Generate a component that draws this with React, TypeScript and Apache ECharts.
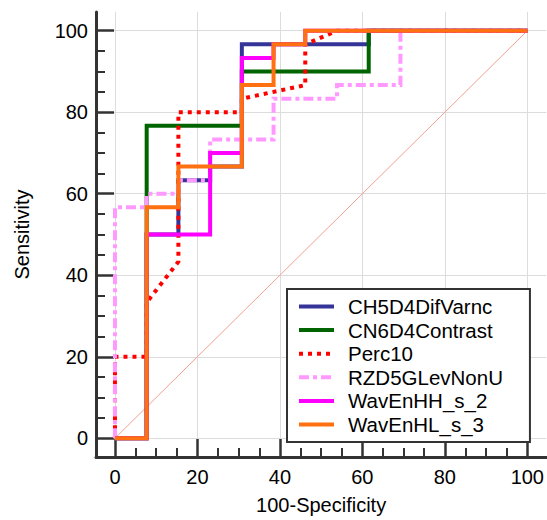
import React, { useEffect, useRef } from "react";
import * as echarts from "echarts";

const xMajorTicks = [0, 20, 40, 60, 80, 100];
const yMajorTicks = [0, 20, 40, 60, 80, 100];
const minorTicks = [5, 10, 15, 25, 30, 35, 45, 50, 55, 65, 70, 75, 85, 90, 95];

const seriesNames = [
  "CH5D4DifVarnc",
  "CN6D4Contrast",
  "Perc10",
  "RZD5GLevNonU",
  "WavEnHH_s_2",
  "WavEnHL_s_3",
];

const ch5d4DifVarnc = [
  [0, 0], [7.69, 0], [7.69, 50], [15.38, 50], [15.38, 63.33], [23.08, 63.33],
  [23.08, 66.67], [30.77, 66.67], [30.77, 96.67], [61.54, 96.67], [61.54, 100], [100, 100],
];
const cn6d4Contrast = [
  [0, 0], [7.69, 0], [7.69, 76.67], [30.77, 76.67], [30.77, 90], [61.54, 90],
  [61.54, 100], [100, 100],
];
const perc10 = [
  [0, 0], [0, 20], [7.69, 20], [7.69, 33.33], [15.38, 43.33], [15.38, 80],
  [30.77, 80], [30.77, 83.33], [46.15, 86.67], [46.15, 96.67], [53.85, 100], [100, 100],
];
const rzd5GLevNonU = [
  [0, 0], [0, 56.67], [7.69, 56.67], [7.69, 60], [15.38, 60], [15.38, 63.33],
  [23.08, 63.33], [23.08, 73.33], [38.46, 73.33], [38.46, 83.33], [53.85, 83.33],
  [53.85, 86.67], [69.23, 86.67], [69.23, 100], [100, 100],
];
const wavEnHH_s_2 = [
  [0, 0], [7.69, 0], [7.69, 50], [23.08, 50], [23.08, 70], [30.77, 70],
  [30.77, 93.33], [38.46, 93.33], [38.46, 96.67], [46.15, 96.67], [46.15, 100], [100, 100],
];
const wavEnHL_s_3 = [
  [0, 0], [7.69, 0], [7.69, 56.67], [15.38, 56.67], [15.38, 66.67], [30.77, 66.67],
  [30.77, 86.67], [38.46, 86.67], [38.46, 96.67], [46.15, 96.67], [46.15, 100], [100, 100],
];
const diagonal = [[0, 0], [100, 100]];

const seriesData = [ch5d4DifVarnc, cn6d4Contrast, perc10, rzd5GLevNonU, wavEnHH_s_2, wavEnHL_s_3];
const seriesColors = ["#353599", "#006400", "#ff0000", "#ff99ff", "#ff00ff", "#ff7010"];
const seriesDash: any[] = ["solid", "solid", [4, 5], [10, 4, 4, 4], "solid", "solid"];

const FONT = "'Liberation Sans', Arial, sans-serif";
const AX = "#333333";

function makeAxes(kind: "x" | "y", majors: number[], name: string) {
  const base = {
    type: "value",
    min: -4.6,
    max: 104.6,
  };
  const main: any = {
    ...base,
    name,
    nameLocation: "middle",
    nameGap: kind === "x" ? 38 : 64,
    nameTextStyle: { fontFamily: FONT, fontSize: 20, color: "#000" },
    axisLine: { show: true, onZero: false, lineStyle: { color: AX, width: 3 } },
    axisTick: { show: true, inside: true, length: 18, customValues: majors, lineStyle: { color: AX, width: 2.5 } },
    axisLabel: {
      show: true,
      customValues: majors,
      margin: kind === "x" ? 10 : 8,
      fontFamily: FONT,
      fontSize: 20,
      color: "#000",
    },
    splitLine: { show: true, lineStyle: { color: "#dcdcdc", width: 1 } },
  };
  const minor: any = {
    ...base,
    position: kind === "x" ? "bottom" : "left",
    axisLine: { show: false, onZero: false },
    axisTick: { show: true, inside: true, length: 9, customValues: minorTicks, lineStyle: { color: AX, width: 2 } },
    axisLabel: { show: false },
    splitLine: { show: false },
  };
  if (kind === "x") main.position = "bottom";
  else main.position = "left";
  return [main, minor];
}

export default function App() {
  const ref = useRef<HTMLDivElement>(null);
  useEffect(() => {
    if (!ref.current) return;
    const chart = echarts.init(ref.current, null, { renderer: "svg" });
    const lines = seriesNames.map((n, i) => ({
      name: n,
      type: "line",
      data: seriesData[i],
      showSymbol: false,
      symbol: "none",
      xAxisIndex: 0,
      yAxisIndex: 0,
      lineStyle: { color: seriesColors[i], width: 4, type: seriesDash[i], cap: "butt", join: "miter" },
      itemStyle: { color: seriesColors[i] },
      z: 3 + i,
    }));
    chart.setOption({
      animation: false,
      backgroundColor: "#fff",
      grid: { left: 96, top: 12, width: 451, height: 450, containLabel: false },
      xAxis: makeAxes("x", xMajorTicks, "100-Specificity"),
      yAxis: makeAxes("y", yMajorTicks, "Sensitivity"),
      legend: {
        data: seriesNames,
        orient: "vertical",
        left: 287,
        top: 289,
        padding: [7, 27, 7, 10],
        itemWidth: 35,
        itemHeight: 14,
        itemGap: 2.6,
        borderColor: AX,
        borderWidth: 2,
        backgroundColor: "#fff",
        itemStyle: { opacity: 0, borderWidth: 0 },
        lineStyle: { width: 4 },
        textStyle: { fontFamily: FONT, fontSize: 20.5, color: "#000", padding: [0, 0, 0, 9] },
      },
      series: [
        {
          name: "diag",
          type: "line",
          data: diagonal,
          showSymbol: false,
          symbol: "none",
          lineStyle: { color: "#f0a090", width: 1 },
          z: 2,
        },
        ...lines,
      ],
    });
    return () => chart.dispose();
  }, []);
  return (
    <div
      ref={ref}
      style={{ position: "fixed", left: 0, top: 0, width: 547, height: 520, background: "#fff" }}
    />
  );
}
